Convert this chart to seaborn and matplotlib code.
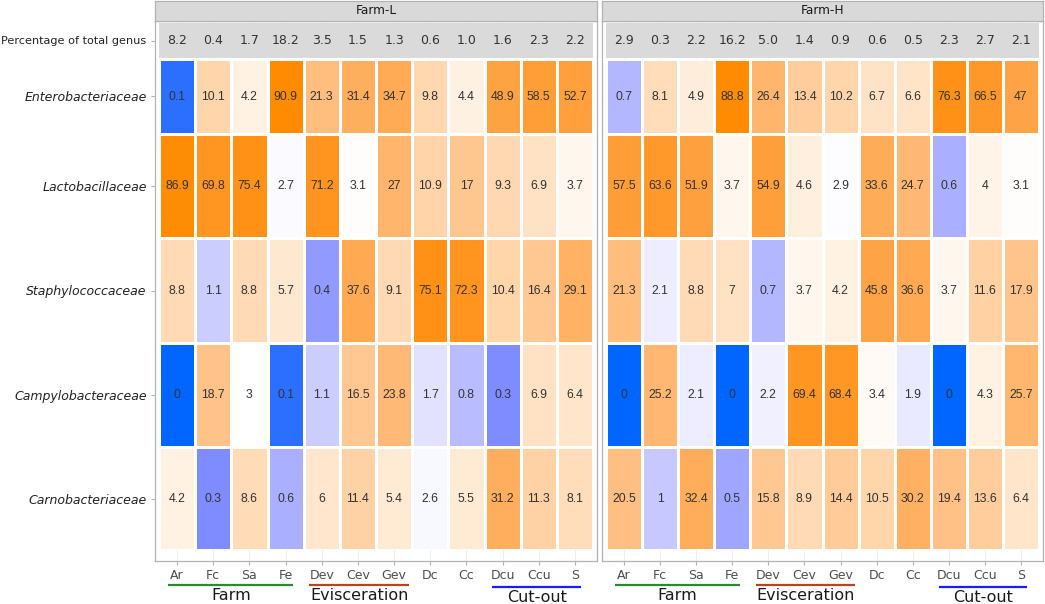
import numpy as np
import matplotlib
matplotlib.use("Agg")
import matplotlib.pyplot as plt
import seaborn as sns
from matplotlib.colors import LinearSegmentedColormap, ListedColormap

# sampling sites (x axis) and families (rows)
sites = ["Ar", "Fc", "Sa", "Fe", "Dev", "Cev", "Gev", "Dc", "Cc", "Dcu", "Ccu", "S"]
families = ["Enterobacteriaceae", "Lactobacillaceae", "Staphylococcaceae",
            "Campylobacteraceae", "Carnobacteriaceae"]
farms = ["Farm-L", "Farm-H"]
pct_label = "Percentage of total genus"

# Farm-L
pct_l = [8.2, 0.4, 1.7, 18.2, 3.5, 1.5, 1.3, 0.6, 1.0, 1.6, 2.3, 2.2]
entero_l = [0.1, 10.1, 4.2, 90.9, 21.3, 31.4, 34.7, 9.8, 4.4, 48.9, 58.5, 52.7]
lacto_l = [86.9, 69.8, 75.4, 2.7, 71.2, 3.1, 27, 10.9, 17, 9.3, 6.9, 3.7]
staph_l = [8.8, 1.1, 8.8, 5.7, 0.4, 37.6, 9.1, 75.1, 72.3, 10.4, 16.4, 29.1]
campy_l = [0, 18.7, 3, 0.1, 1.1, 16.5, 23.8, 1.7, 0.8, 0.3, 6.9, 6.4]
carno_l = [4.2, 0.3, 8.6, 0.6, 6, 11.4, 5.4, 2.6, 5.5, 31.2, 11.3, 8.1]

# Farm-H
pct_h = [2.9, 0.3, 2.2, 16.2, 5.0, 1.4, 0.9, 0.6, 0.5, 2.3, 2.7, 2.1]
entero_h = [0.7, 8.1, 4.9, 88.8, 26.4, 13.4, 10.2, 6.7, 6.6, 76.3, 66.5, 47]
lacto_h = [57.5, 63.6, 51.9, 3.7, 54.9, 4.6, 2.9, 33.6, 24.7, 0.6, 4, 3.1]
staph_h = [21.3, 2.1, 8.8, 7, 0.7, 3.7, 4.2, 45.8, 36.6, 3.7, 11.6, 17.9]
campy_h = [0, 25.2, 2.1, 0, 2.2, 69.4, 68.4, 3.4, 1.9, 0, 4.3, 25.7]
carno_h = [20.5, 1, 32.4, 0.5, 15.8, 8.9, 14.4, 10.5, 30.2, 19.4, 13.6, 6.4]

groups = ["Farm", "Evisceration", "Cut-out"]
group_colors = ["#2b8a2b", "#b8441e", "#1a1aff"]
group_spans = [(0.26, 3.71), (4.16, 6.91), (9.22, 11.68)]  # in cell units
group_line_y = [585, 585, 587]

# diverging scale on log values: blue (low) -> white (~3%) -> dark orange
scale_vals = [0.08, 0.1, 0.3, 0.6, 1.1, 1.7, 2.1, 3.0, 4.2, 7, 11.6,
              17.9, 24.7, 33.6, 47, 63.6, 90.9]
scale_cols = ["#0066ff", "#2b6fff", "#7f8cff", "#aab0ff", "#cccdff", "#e2e2ff",
              "#eeeeff", "#ffffff", "#fff2e4", "#ffe2c4", "#ffd2a4", "#ffc48c",
              "#ffb874", "#ffac58", "#ffa446", "#ff9a30", "#ff8c00"]
lo, hi = np.log10(scale_vals[0]), np.log10(scale_vals[-1])
pos = [(np.log10(v) - lo) / (hi - lo) for v in scale_vals]
cmap = LinearSegmentedColormap.from_list("bwo", list(zip(pos, scale_cols)))

data = {
    "Farm-L": (pct_l, [entero_l, lacto_l, staph_l, campy_l, carno_l]),
    "Farm-H": (pct_h, [entero_h, lacto_h, staph_h, campy_h, carno_h]),
}

# layout in pixels
W, H = 1045, 604
panel_x = [(155, 597), (602, 1043)]
box_y = (21, 561)
strip_y = (1, 21)
row_edges = [23, 58, 134, 238, 343, 447, 550]
pad = 4


def px_rect(x0, x1, y0, y1):
    return [x0 / W, 1 - y1 / H, (x1 - x0) / W, (y1 - y0) / H]


fig = plt.figure(figsize=(W / 100, H / 100), dpi=100)
grey_txt = "#4d4d4d"

for k, farm in enumerate(farms):
    bx0, bx1 = panel_x[k]
    cx0, cx1 = bx0 + pad, bx1 - pad
    cw = (cx1 - cx0) / len(sites)
    pct, rows = data[farm]

    # panel background with ticks and grid
    bg = fig.add_axes(px_rect(bx0, bx1, box_y[0], box_y[1]))
    bg.set_xlim(bx0, bx1)
    bg.set_ylim(box_y[1], box_y[0])
    centers = [cx0 + (i + 0.5) * cw for i in range(len(sites))]
    bg.set_xticks(centers)
    bg.set_xticklabels(sites, fontsize=9, color=grey_txt)
    row_centers = [(row_edges[i] + row_edges[i + 1]) / 2 for i in range(len(row_edges) - 1)]
    if k == 0:
        bg.set_yticks(row_centers)
        bg.set_yticklabels([pct_label] + families, fontsize=9, color="#222222")
        ylabels = bg.get_yticklabels()
        ylabels[0].set_fontsize(8.1)
        for lbl in ylabels[1:]:
            lbl.set_style("italic")
    else:
        bg.set_yticks([])
    bg.tick_params(length=3, width=0.8, color="#b3b3b3", pad=3)
    bg.grid(True, axis="x", color="#ebebeb", lw=0.6)
    bg.set_axisbelow(True)
    for sp in bg.spines.values():
        sp.set_color("#b3b3b3")
        sp.set_linewidth(0.9)

    # facet strip
    st = fig.add_axes(px_rect(bx0, bx1, strip_y[0], strip_y[1]))
    st.set_facecolor("#d9d9d9")
    st.set_xticks([])
    st.set_yticks([])
    for sp in st.spines.values():
        sp.set_color("#b3b3b3")
        sp.set_linewidth(0.9)
    st.text(0.5, 0.5, farm, ha="center", va="center", fontsize=8.7,
            color="#1a1a1a", transform=st.transAxes)

    # percentage of total genus row
    ax0 = fig.add_axes(px_rect(cx0, cx1, row_edges[0], row_edges[1]))
    sns.heatmap(np.zeros((1, len(sites))), ax=ax0, cmap=ListedColormap(["#dadada"]),
                annot=np.array([[f"{v:.1f}" for v in pct]]), fmt="", cbar=False,
                linewidths=0, xticklabels=False, yticklabels=False,
                annot_kws=dict(fontsize=9, color="#333333"))
    ax0.set_facecolor("none")

    # family rows
    for r, vals in enumerate(rows):
        y0 = row_edges[r + 1] + (1 if r == 0 else 0)
        ax = fig.add_axes(px_rect(cx0, cx1, y0, row_edges[r + 2]))
        arr = np.log10(np.clip(np.array([vals], dtype=float), scale_vals[0], None))
        sns.heatmap(arr, ax=ax, cmap=cmap, vmin=lo, vmax=hi,
                    annot=np.array([[f"{v:g}" for v in vals]]), fmt="", cbar=False,
                    linewidths=0.9, linecolor="white",
                    xticklabels=False, yticklabels=False,
                    annot_kws=dict(fontsize=8.8, family="Liberation Sans", color="#333333"))
        ax.set_facecolor("none")

    # group bars under the x axis
    for g, name in enumerate(groups):
        a, b = group_spans[g]
        xa, xb = cx0 + a * cw, cx0 + b * cw
        yl = group_line_y[g]
        bg.plot([xa, xb], [yl, yl], color=group_colors[g], lw=1.6, clip_on=False,
                solid_capstyle="butt")
        bg.text((xa + xb) / 2, yl + 3, name, ha="center", va="top", fontsize=11.5,
                color="#1a1a1a", clip_on=False)

fig.savefig("out.png", dpi=100)
